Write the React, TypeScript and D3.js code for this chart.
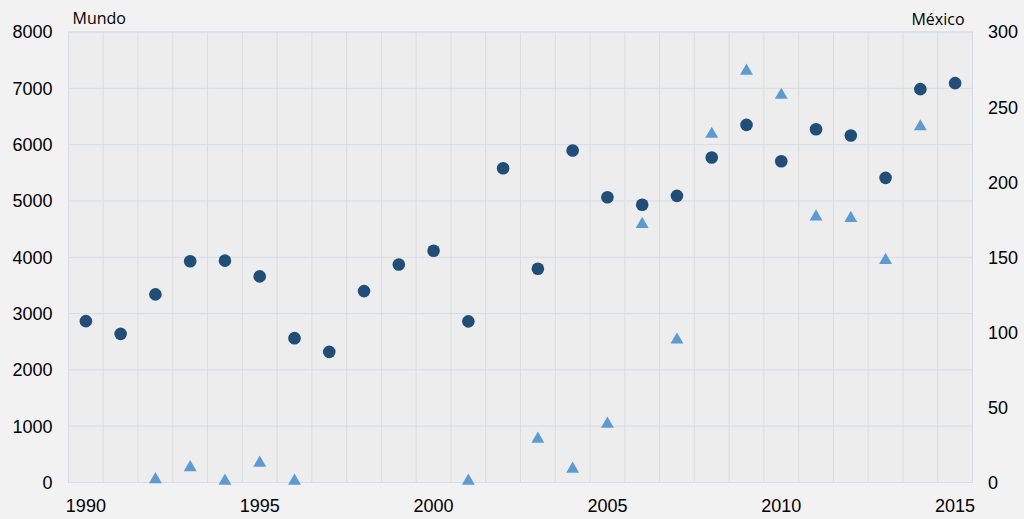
import * as d3 from "d3";

const years = d3.range(1990, 2016).map(String);
const tickYears = ["1990", "1995", "2000", "2005", "2010", "2015"];

// Mundo (left axis)
const mundoValues = [
  2865, 2640, 3340, 3930, 3940, 3660, 2563, 2320, 3399, 3870,
  4116, 2862, 5580, 3796, 5895, 5066, 4933, 5090, 5772, 6350,
  5705, 6272, 6162, 5410, 6985, 7092,
];

// México (right axis), null = no data
const mexicoValues: (number | null)[] = [
  null, null, 2, 10, 1, 13, 1, null, null, null,
  null, 1, null, 29, 9, 39, 172, 95, 232, 274,
  258, 177, 176, 148, 237, null,
];

const leftTicks = [0, 1000, 2000, 3000, 4000, 5000, 6000, 7000, 8000];
const rightTicks = [0, 50, 100, 150, 200, 250, 300];

const W = 1024;
const H = 519;
const MARGIN = { top: 32, right: 51.5, bottom: 36.5, left: 68.5 };

export default function App() {
  const x = d3
    .scaleBand()
    .domain(years)
    .range([MARGIN.left, W - MARGIN.right])
    .padding(0);
  const yLeft = d3.scaleLinear().domain([0, 8000]).range([H - MARGIN.bottom, MARGIN.top]);
  const yRight = d3.scaleLinear().domain([0, 300]).range([H - MARGIN.bottom, MARGIN.top]);

  const bw = x.bandwidth();
  const cx = (yr: string) => (x(yr) as number) + bw / 2;
  const x0 = MARGIN.left;
  const x1 = W - MARGIN.right;
  const yTop = MARGIN.top;
  const yBot = H - MARGIN.bottom;

  const tri = d3.symbol().type(d3.symbolTriangle).size(72)();
  const numFont = "'Liberation Sans', Arial, sans-serif";

  return (
    <svg
      width={W}
      height={H}
      style={{ position: "absolute", left: 0, top: 0, display: "block" }}
    >
      <rect x={0} y={0} width={W} height={H} fill="#f2f2f2" />
      <rect x={x0} y={yTop} width={x1 - x0} height={yBot - yTop} fill="#ededed" />

      {/* vertical grid at band edges */}
      {years.map((yr) => (
        <line
          key={"v" + yr}
          x1={x(yr)}
          x2={x(yr)}
          y1={yTop}
          y2={yBot}
          stroke="#dcdcdc"
          strokeWidth={1}
        />
      ))}
      {/* horizontal grid */}
      {leftTicks.map((t) => (
        <line
          key={"h" + t}
          x1={x0}
          x2={x1}
          y1={yLeft(t)}
          y2={yLeft(t)}
          stroke="#d6dce4"
          strokeWidth={1}
        />
      ))}
      <rect
        x={x0}
        y={yTop}
        width={x1 - x0}
        height={yBot - yTop}
        fill="none"
        stroke="#d6dce4"
        strokeWidth={1}
      />

      {/* left axis labels */}
      {leftTicks.map((t) => (
        <text
          key={"l" + t}
          x={52.5}
          y={yLeft(t)}
          dy="0.36em"
          textAnchor="end"
          fontFamily={numFont}
          fontSize={18}
          fill="#000"
        >
          {t}
        </text>
      ))}
      {/* right axis labels */}
      {rightTicks.map((t) => (
        <text
          key={"r" + t}
          x={988}
          y={yRight(t)}
          dy="0.36em"
          textAnchor="start"
          fontFamily={numFont}
          fontSize={18}
          fill="#000"
        >
          {t}
        </text>
      ))}
      {/* x axis labels */}
      {tickYears.map((yr) => (
        <text
          key={"x" + yr}
          x={cx(yr)}
          y={yBot + 29}
          textAnchor="middle"
          fontFamily={numFont}
          fontSize={18}
          fill="#000"
        >
          {yr}
        </text>
      ))}

      <text x={72.5} y={23.5} fontFamily="'Open Sans', sans-serif" fontSize={16} fill="#000">
        Mundo
      </text>
      <text
        x={964.5}
        y={24.5}
        textAnchor="end"
        fontFamily="'Open Sans', sans-serif"
        fontSize={16}
        fill="#000"
      >
        México
      </text>

      {/* México triangles */}
      {mexicoValues.map((v, i) =>
        v == null ? null : (
          <path
            key={"m" + i}
            d={tri as string}
            transform={`translate(${cx(years[i])},${yRight(v)})`}
            fill="#5b9bd5"
          />
        )
      )}
      {/* Mundo circles */}
      {mundoValues.map((v, i) => (
        <circle key={"w" + i} cx={cx(years[i])} cy={yLeft(v)} r={6.3} fill="#1f4e79" />
      ))}
    </svg>
  );
}
